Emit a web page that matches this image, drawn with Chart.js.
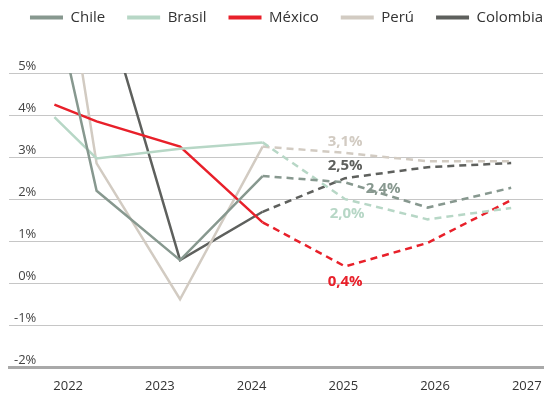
<!DOCTYPE html>
<html>
<head>
<meta charset="utf-8">
<script src="https://cdn.jsdelivr.net/npm/chart.js@4/dist/chart.umd.min.js"></script>
<style>
  html, body { margin: 0; padding: 0; background: #fff; }
</style>
</head>
<body>
<canvas id="growth" width="559" height="399"></canvas>
<script>
// GDP growth, % (solid = actual, dashed = forecast from the 2024 point on)

const years = [2022, 2023, 2024, 2025, 2026, 2027];          // x tick labels
const xPoints = [2021.85, 2022.31, 2023.22, 2024.12, 2025.02, 2025.92, 2026.83];

const chile    = [6.7, 2.2, 0.55, 2.55, 2.4, 1.8, 2.27];
const brasil   = [3.95, 2.97, 3.2, 3.35, 2.0, 1.52, 1.79];
const mexico   = [4.25, 3.85, 3.25, 1.45, 0.4, 0.96, 1.98];
const peru     = [9.2, 2.85, -0.38, 3.25, 3.1, 2.9, 2.9];
const colombia = [10.7, 7.3, 0.55, 1.7, 2.5, 2.76, 2.86];

const firstForecast = 3;   // segments starting here are dashed
const labelIndex = 4;      // point that gets a value label

const chileColor = '#87988f';
const brasilColor = '#b7d7c6';
const mexicoColor = '#e8202a';
const peruColor = '#d2cbc2';
const colombiaColor = '#5e605d';

const font = 'Open Sans';

function series(label, values, color, labelShift) {
  return {
    label: label,
    data: xPoints.map((x, i) => ({ x: x, y: values[i] })),
    borderColor: color,
    backgroundColor: color,
    borderWidth: 2.5,
    pointRadius: 0,
    tension: 0,
    clip: 0,
    labelShift: labelShift,
    segment: {
      borderDash: ctx => ctx.p0DataIndex >= firstForecast ? [7, 5] : undefined
    }
  };
}

// legend: one wide row, pulled up, chart area starts lower
const legendSpace = {
  id: 'legendSpace',
  beforeInit(chart) {
    const fit = chart.legend.fit;
    chart.legend.fit = function () {
      this.maxWidth = chart.width + 60;
      fit.call(this);
      this.height += 38;
    };
  },
  afterLayout(chart) {
    chart.legend.left = 1;
    chart.legend.right = 572;
  }
};

// value labels on the 2025 points
const pointLabels = {
  id: 'pointLabels',
  afterDatasetsDraw(chart) {
    const ctx = chart.ctx;
    ctx.save();
    ctx.font = 'bold 15px "' + font + '"';
    ctx.textAlign = 'center';
    ctx.textBaseline = 'middle';
    chart.data.datasets.forEach((ds, i) => {
      const pt = chart.getDatasetMeta(i).data[labelIndex];
      const txt = ds.data[labelIndex].y.toFixed(1).replace('.', ',') + '%';
      ctx.fillStyle = ds.borderColor;
      ctx.fillText(txt, pt.x + ds.labelShift[0], pt.y + ds.labelShift[1]);
    });
    ctx.restore();
  }
};

new Chart(document.getElementById('growth'), {
  type: 'line',
  data: {
    datasets: [
      series('Chile', chile, chileColor, [38, 6]),
      series('Brasil', brasil, brasilColor, [2, 15]),
      series('México', mexico, mexicoColor, [0, 15]),
      series('Perú', peru, peruColor, [0, -11]),
      series('Colombia', colombia, colombiaColor, [0, -12])
    ]
  },
  options: {
    responsive: false,
    animation: false,
    layout: { padding: { top: -12, left: -1, right: 16, bottom: -6 } },
    plugins: {
      legend: {
        position: 'top',
        labels: {
          boxWidth: 33,
          boxHeight: 4,
          padding: 22,
          color: '#333',
          font: { family: font, size: 15 },
          generateLabels: chart => Chart.defaults.plugins.legend.labels.generateLabels(chart)
            .map(item => Object.assign(item, { lineWidth: 0, lineDash: [] }))
        }
      },
      tooltip: { enabled: false }
    },
    scales: {
      x: {
        type: 'linear',
        min: 2021.355,
        max: 2027.177,
        afterBuildTicks: axis => { axis.ticks = years.map(v => ({ value: v })); },
        grid: { display: false, drawTicks: false },
        border: { display: true, color: '#a9a9a9', width: 3 },
        ticks: {
          color: '#333',
          padding: 11,
          maxRotation: 0,
          autoSkip: false,
          font: { family: font, size: 13 },
          callback: v => String(v)
        }
      },
      y: {
        min: -2,
        max: 5,
        grid: { color: '#c6c6c6', lineWidth: 1, drawTicks: false },
        border: { display: false },
        ticks: {
          stepSize: 1,
          mirror: true,
          crossAlign: 'far',
          padding: 5,
          labelOffset: -7,
          color: '#444',
          font: { family: font, size: 13 },
          callback: v => v + '%'
        }
      }
    }
  },
  plugins: [legendSpace, pointLabels]
});
</script>
</body>
</html>
